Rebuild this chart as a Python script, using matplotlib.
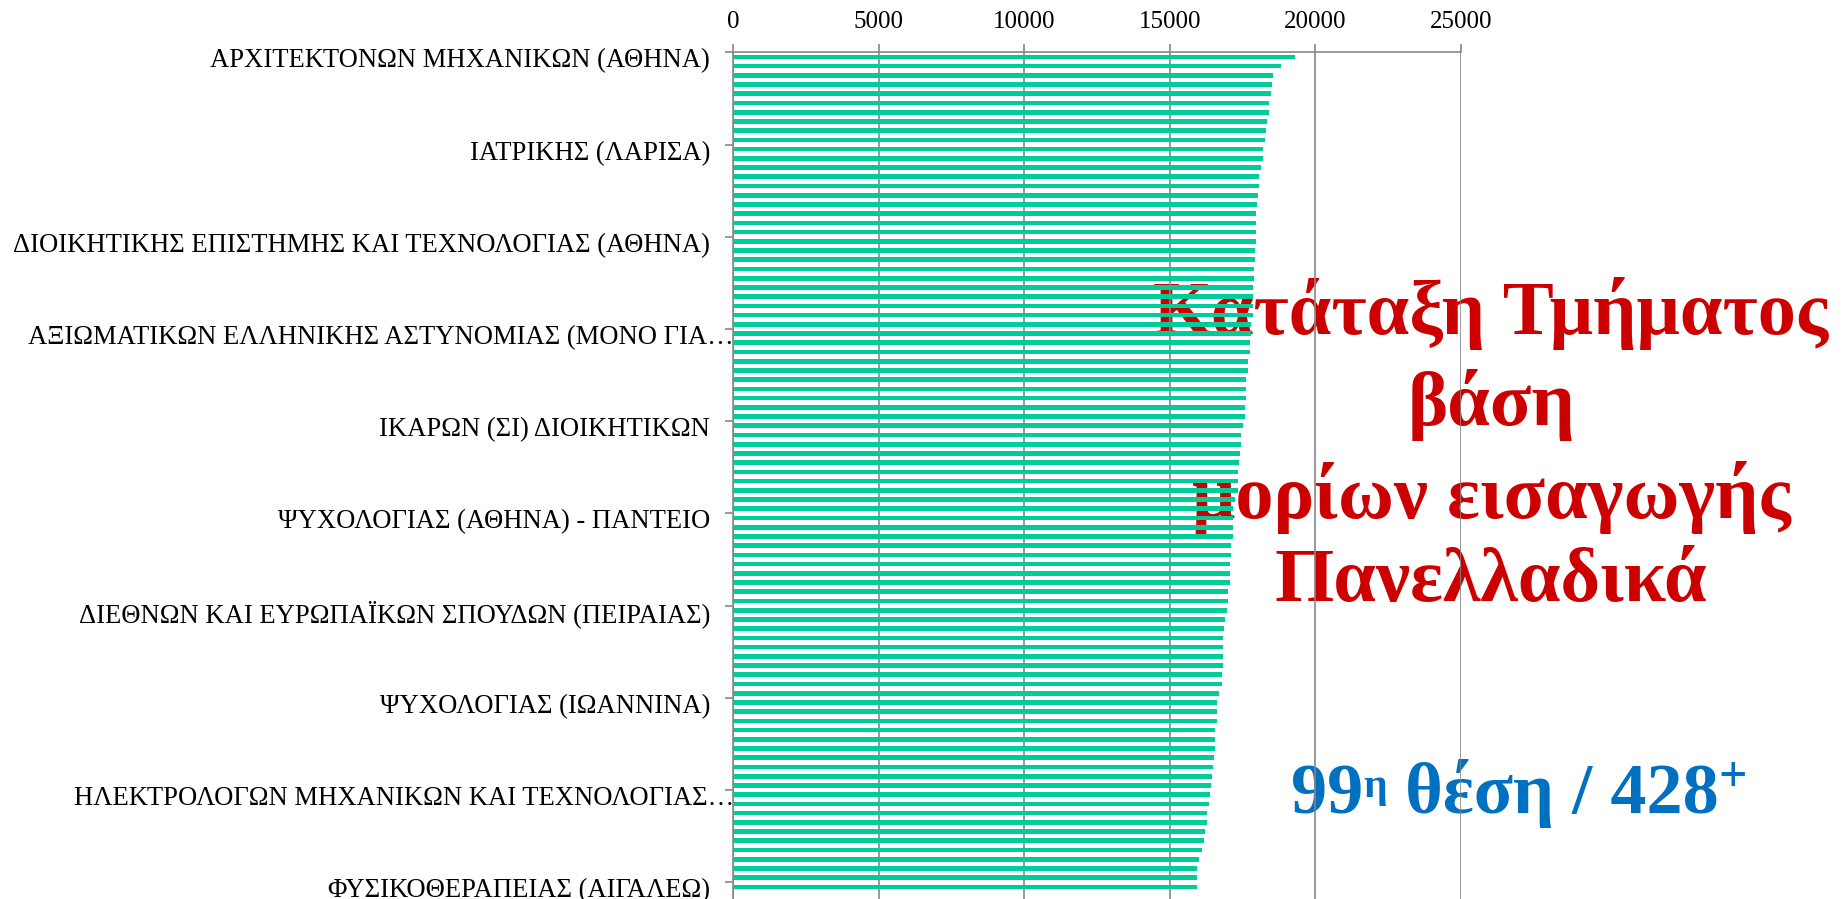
import numpy as np
import matplotlib
matplotlib.use('Agg')
import matplotlib.pyplot as plt
from matplotlib.transforms import blended_transform_factory, offset_copy

# Τιμές (βάσεις) των 91 ορατών τμημάτων, με τη σειρά κατάταξης
scores = [19289, 18803, 18553, 18500, 18474, 18395, 18395, 18355, 18290, 18276,
          18211, 18197, 18145, 18079, 18066, 18013, 17987, 17974, 17961, 17947,
          17947, 17921, 17921, 17908, 17895, 17868, 17868, 17855, 17842, 17803,
          17776, 17763, 17763, 17697, 17671, 17632, 17618, 17605, 17579, 17566,
          17500, 17434, 17434, 17408, 17382, 17355, 17329, 17329, 17250, 17171,
          17158, 17158, 17158, 17092, 17092, 17079, 17053, 17053, 16987, 16987,
          16974, 16882, 16868, 16842, 16829, 16829, 16816, 16776, 16776, 16684,
          16618, 16605, 16605, 16566, 16553, 16540, 16513, 16500, 16434, 16421,
          16395, 16329, 16289, 16263, 16224, 16158, 16092, 16013, 15947, 15947,
          15934]

# Ετικέτες που φαίνονται (κάθε 10ο τμήμα)
label_ranks = [1, 11, 21, 31, 41, 51, 61, 71, 81, 91]
label_names = [
    'ΑΡΧΙΤΕΚΤΟΝΩΝ ΜΗΧΑΝΙΚΩΝ (ΑΘΗΝΑ)',
    'ΙΑΤΡΙΚΗΣ (ΛΑΡΙΣΑ)',
    'ΔΙΟΙΚΗΤΙΚΗΣ ΕΠΙΣΤΗΜΗΣ ΚΑΙ ΤΕΧΝΟΛΟΓΙΑΣ (ΑΘΗΝΑ)',
    'ΑΞΙΩΜΑΤΙΚΩΝ ΕΛΛΗΝΙΚΗΣ ΑΣΤΥΝΟΜΙΑΣ (ΜΟΝΟ ΓΙΑ…',
    'ΙΚΑΡΩΝ (ΣΙ) ΔΙΟΙΚΗΤΙΚΩΝ',
    'ΨΥΧΟΛΟΓΙΑΣ (ΑΘΗΝΑ) - ΠΑΝΤΕΙΟ',
    'ΔΙΕΘΝΩΝ ΚΑΙ ΕΥΡΩΠΑΪΚΩΝ ΣΠΟΥΔΩΝ (ΠΕΙΡΑΙΑΣ)',
    'ΨΥΧΟΛΟΓΙΑΣ (ΙΩΑΝΝΙΝΑ)',
    'ΗΛΕΚΤΡΟΛΟΓΩΝ ΜΗΧΑΝΙΚΩΝ ΚΑΙ ΤΕΧΝΟΛΟΓΙΑΣ…',
    'ΦΥΣΙΚΟΘΕΡΑΠΕΙΑΣ (ΑΙΓΑΛΕΩ)',
]
x_ticks = [0, 5000, 10000, 15000, 20000, 25000]

title_lines = ['Κατάταξη Τμήματος', 'βάση', 'μορίων εισαγωγής', 'Πανελλαδικά']

plt.rcParams['font.family'] = ['Liberation Serif', 'DejaVu Serif']

grid_col = '#888888'
bar_col = '#00CC99'
red = '#CC0000'
blue = '#0070C0'

fig = plt.figure(figsize=(18.43, 8.99), dpi=100)

# φόντο με τα κείμενα (κάτω από το γράφημα)
bg = fig.add_axes([0, 0, 1, 1], zorder=0)
bg.set_xlim(0, 1843)
bg.set_ylim(899, 0)
bg.axis('off')

title_base = [334, 425, 518, 601]
for yb, line in zip(title_base, title_lines):
    bg.text(1491, yb, line, ha='center', va='baseline',
            fontsize=55, fontweight='bold', color=red)

t1 = bg.text(1291, 813, '99', ha='left', va='baseline',
             fontsize=52, fontweight='bold', color=blue)
t2 = bg.annotate('η', xy=(1, 0.93), xycoords=t1, ha='left', va='top',
                 fontsize=30, fontweight='bold', color=blue)
t3 = bg.annotate(' θέση / 428', xy=(1, 0), xycoords=(t2, t1), ha='left',
                 va='bottom', fontsize=52, fontweight='bold', color=blue)
t4 = bg.annotate('+', xy=(1, 1.04), xycoords=t3, ha='left', va='top',
                 fontsize=36, fontweight='bold', color=blue)

# κύριο γράφημα
ax = fig.add_axes([733 / 1843, 0, (1461 - 733) / 1843, 1 - 52.3 / 899], zorder=1)
ax.patch.set_visible(False)

y = np.arange(len(scores))
ax.barh(y, scores, height=0.5, color=bar_col, zorder=3)

ax.set_xlim(0, 25000)
ax.set_ylim(-0.5 + (899 - 52.3) / 9.222, -0.5)

ax.xaxis.tick_top()
ax.set_xticks(x_ticks)
ax.set_xticklabels([str(v) for v in x_ticks], fontsize=18)
ax.tick_params(axis='x', length=6, width=1.2, color=grid_col, pad=8)
ax.grid(axis='x', color=grid_col, linewidth=1.2, zorder=1)

ax.set_yticks(np.arange(-0.5, len(scores), 10))
ax.set_yticklabels([])
ax.tick_params(axis='y', length=6, width=1.2, color=grid_col)

for s in ['right', 'bottom']:
    ax.spines[s].set_visible(False)
for s in ['left', 'top']:
    ax.spines[s].set_color(grid_col)
    ax.spines[s].set_linewidth(1.2)

trans = blended_transform_factory(ax.transAxes, ax.transData)
for rank, name in zip(label_ranks, label_names):
    shift = 1 if name.endswith('…') else -23
    ax.text(0, rank - 1, name, ha='right', va='center', fontsize=19.2,
            transform=offset_copy(trans, fig=fig, x=shift, y=-4, units='dots'),
            clip_on=False)

fig.savefig('out.png', dpi=100)
